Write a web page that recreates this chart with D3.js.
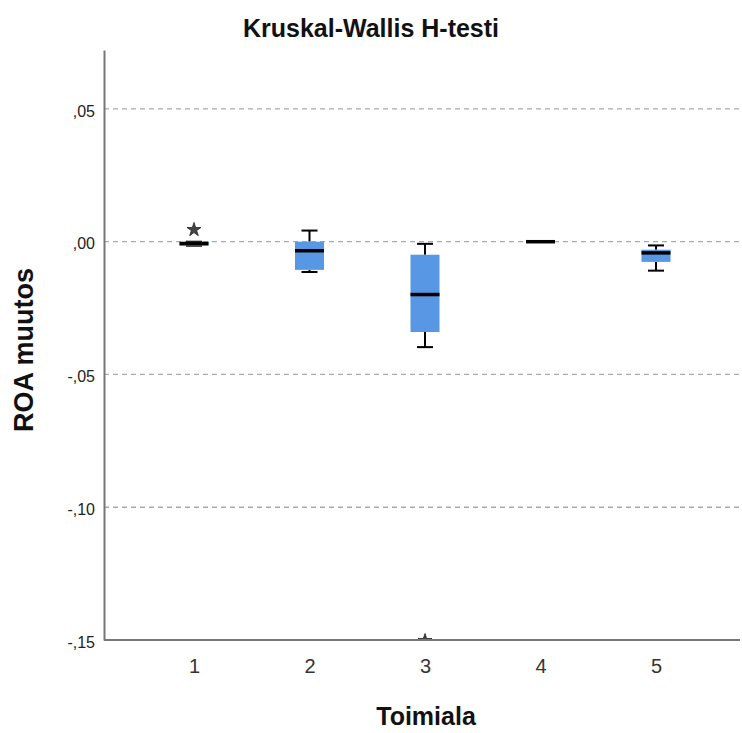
<!DOCTYPE html>
<html>
<head>
<meta charset="utf-8">
<script src="https://cdn.jsdelivr.net/npm/d3@7"></script>
<style>
  body { margin: 0; background: #fff; }
  text { font-family: "Liberation Sans", Arial, sans-serif; }
</style>
</head>
<body>
<div id="wrapper"></div>
<script>
// groups (Toimiala) and box stats
const categories = ["1", "2", "3", "4", "5"]
const whiskerLow  = [-0.0015, -0.0114, -0.0397, 0.0000, -0.0109]
const q1          = [-0.0015, -0.0106, -0.0340, 0.0000, -0.0076]
const medians     = [-0.0007, -0.0034, -0.0199, 0.0000, -0.0042]
const q3          = [ 0.0000,  0.0000, -0.0049, 0.0000, -0.0030]
const whiskerHigh = [ 0.0000,  0.0042, -0.0008, 0.0000, -0.0014]
// extreme values (stars)
const extremeCat = ["1", "3"]
const extremeVal = [0.0045, -0.1503]
const yTicks = [0.05, 0, -0.05, -0.10, -0.15]

const width = 742
const height = 733
let dimensions = {
    width: width,
    height: height,
    margin: { top: 50, right: 2, bottom: 93, left: 104 },
}
dimensions.boundedWidth = dimensions.width - dimensions.margin.left - dimensions.margin.right
dimensions.boundedHeight = dimensions.height - dimensions.margin.top - dimensions.margin.bottom

const svg = d3.select("#wrapper")
    .append("svg")
    .attr("width", dimensions.width)
    .attr("height", dimensions.height)

const bounds = svg.append("g")
    .attr("transform", `translate(${dimensions.margin.left},${dimensions.margin.top})`)

const yScaler = d3.scaleLinear()
    .domain([-0.15, 0.0722])
    .range([dimensions.boundedHeight, 0])

const xScaler = d3.scalePoint()
    .domain(categories)
    .range([90, 552])

const fmt = v => {
    if (v === 0) return ",00"
    const s = d3.format(".2f")(Math.abs(v)).replace("0.", ",")
    return (v < 0 ? "-" : "") + s
}

// dashed grid lines
bounds.append("g")
    .selectAll("line")
    .data(yTicks.filter(d => d > -0.15))
    .enter().append("line")
    .attr("x1", 0)
    .attr("x2", dimensions.boundedWidth)
    .attr("y1", d => yScaler(d))
    .attr("y2", d => yScaler(d))
    .attr("stroke", "#aaa")
    .attr("stroke-width", 1.3)
    .attr("stroke-dasharray", "5 4")

bounds.append("clipPath").attr("id", "clip")
    .append("rect")
    .attr("width", dimensions.boundedWidth)
    .attr("height", dimensions.boundedHeight)

const plot = bounds.append("g").attr("clip-path", "url(#clip)")

const boxW = 29
const capW = 16
const groups = plot.selectAll("g.box")
    .data(categories)
    .enter().append("g")
    .attr("class", "box")

// whiskers
groups.append("line")
    .attr("x1", d => xScaler(d)).attr("x2", d => xScaler(d))
    .attr("y1", (d, i) => yScaler(whiskerHigh[i]))
    .attr("y2", (d, i) => yScaler(q3[i]))
    .attr("stroke", "#000").attr("stroke-width", 2)
groups.append("line")
    .attr("x1", d => xScaler(d)).attr("x2", d => xScaler(d))
    .attr("y1", (d, i) => yScaler(q1[i]))
    .attr("y2", (d, i) => yScaler(whiskerLow[i]))
    .attr("stroke", "#000").attr("stroke-width", 2)
groups.append("line")
    .attr("x1", d => xScaler(d) - capW / 2).attr("x2", d => xScaler(d) + capW / 2)
    .attr("y1", (d, i) => yScaler(whiskerHigh[i]))
    .attr("y2", (d, i) => yScaler(whiskerHigh[i]))
    .attr("stroke", "#000").attr("stroke-width", 2)
groups.append("line")
    .attr("x1", d => xScaler(d) - capW / 2).attr("x2", d => xScaler(d) + capW / 2)
    .attr("y1", (d, i) => yScaler(whiskerLow[i]))
    .attr("y2", (d, i) => yScaler(whiskerLow[i]))
    .attr("stroke", "#000").attr("stroke-width", 2)

// boxes
groups.append("rect")
    .attr("x", d => xScaler(d) - boxW / 2)
    .attr("y", (d, i) => yScaler(q3[i]))
    .attr("width", boxW)
    .attr("height", (d, i) => yScaler(q1[i]) - yScaler(q3[i]))
    .attr("fill", "#5797e3")

// medians
groups.append("line")
    .attr("x1", d => xScaler(d) - boxW / 2).attr("x2", d => xScaler(d) + boxW / 2)
    .attr("y1", (d, i) => yScaler(medians[i]))
    .attr("y2", (d, i) => yScaler(medians[i]))
    .attr("stroke", "#000").attr("stroke-width", 3.5)

// extreme stars
plot.selectAll("path.star")
    .data(extremeCat)
    .enter().append("path")
    .attr("class", "star")
    .attr("d", d3.symbol(d3.symbolStar, 60))
    .attr("transform", (d, i) => `translate(${xScaler(d)},${yScaler(extremeVal[i])})`)
    .attr("fill", "#444")
    .attr("stroke", "#222")
    .attr("stroke-width", 0.8)

// axes
const yAxis = bounds.append("g")
    .call(d3.axisLeft(yScaler).tickValues(yTicks).tickSize(0).tickFormat(fmt).tickPadding(9))
yAxis.select(".domain").attr("stroke", "#777").attr("stroke-width", 2)
yAxis.selectAll("text").attr("font-size", "16px").attr("fill", "#222").attr("dy", "0.45em")

const xAxis = bounds.append("g")
    .attr("transform", `translate(0,${dimensions.boundedHeight})`)
    .call(d3.axisBottom(xScaler).tickSize(0).tickPadding(19))
xAxis.select(".domain").attr("stroke", "#777").attr("stroke-width", 2)
    .attr("d", `M0,0H${dimensions.boundedWidth}`)
xAxis.selectAll("text").attr("font-size", "20px").attr("fill", "#333")

// titles
svg.append("text")
    .attr("x", 371).attr("y", 37)
    .attr("text-anchor", "middle")
    .attr("font-size", "25px").attr("font-weight", "bold")
    .attr("fill", "#111")
    .text("Kruskal-Wallis H-testi")

svg.append("text")
    .attr("transform", "translate(33,350) rotate(-90)")
    .attr("text-anchor", "middle")
    .attr("font-size", "27px").attr("font-weight", "bold")
    .attr("fill", "#111")
    .text("ROA muutos")

svg.append("text")
    .attr("x", 426).attr("y", 725)
    .attr("text-anchor", "middle")
    .attr("font-size", "25px").attr("font-weight", "bold")
    .attr("fill", "#111")
    .text("Toimiala")
</script>
</body>
</html>
